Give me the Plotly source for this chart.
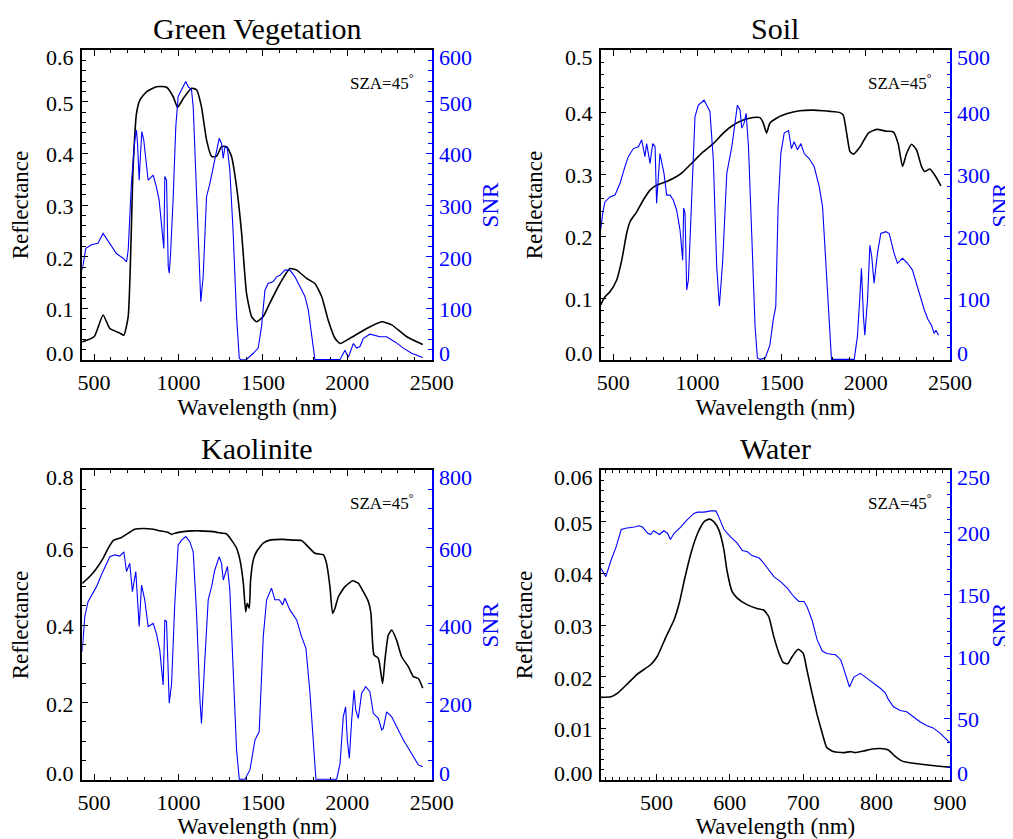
import plotly.graph_objects as go

# ---------------- data ----------------
veg_ref_wl = [429, 500, 553, 593, 652, 676, 702, 731, 751, 771, 810, 869, 929, 968, 994, 1028, 1077, 1107,
              1136, 1166, 1196, 1225, 1255, 1285, 1314, 1344, 1374, 1403, 1433, 1462, 1502, 1541, 1601, 1660,
              1700, 1759, 1808, 1848, 1887, 1927, 1957, 2016, 2115, 2204, 2263, 2352, 2447]
veg_ref = [0.035, 0.045, 0.087, 0.061, 0.052, 0.048, 0.084, 0.374, 0.477, 0.503, 0.519, 0.529, 0.528, 0.510,
           0.489, 0.506, 0.526, 0.523, 0.490, 0.426, 0.394, 0.394, 0.413, 0.413, 0.394, 0.335, 0.245, 0.129,
           0.084, 0.074, 0.084, 0.110, 0.148, 0.177, 0.174, 0.158, 0.148, 0.123, 0.077, 0.042, 0.032, 0.042,
           0.061, 0.074, 0.068, 0.045, 0.030]
veg_snr_wl = [429, 451, 484, 523, 553, 593, 632, 672, 692, 702, 721, 741, 751, 757, 767, 775, 783, 794, 820,
              850, 869, 885, 899, 913, 919, 929, 939, 945, 953, 968, 984, 998, 1018, 1043, 1057, 1077, 1087,
              1103, 1121, 1132, 1146, 1166, 1186, 1205, 1225, 1241, 1255, 1265, 1275, 1289, 1304, 1324, 1344,
              1360, 1374, 1403, 1443, 1472, 1492, 1512, 1531, 1561, 1581, 1601, 1630, 1660, 1690, 1719, 1749,
              1769, 1789, 1808, 1957, 1986, 2006, 2036, 2055, 2075, 2095, 2134, 2194, 2233, 2283, 2332, 2381,
              2421, 2447]
veg_snr = [174, 216, 223, 226, 245, 226, 206, 197, 190, 213, 342, 426, 445, 419, 348, 400, 442, 426, 348,
           358, 335, 310, 258, 216, 355, 348, 181, 168, 206, 310, 452, 510, 523, 539, 529, 523, 490, 342,
           181, 113, 161, 316, 342, 374, 406, 429, 419, 390, 413, 410, 368, 245, 84, 3, 0, 1, 13, 23, 65,
           135, 148, 152, 161, 164, 174, 174, 161, 142, 123, 97, 45, 1, 1, 19, 5, 32, 23, 26, 42, 50, 45,
           45, 35, 23, 13, 8, 5]

soil_ref_wl = [425, 450, 480, 520, 550, 579, 599, 639, 678, 718, 757, 817, 876, 916, 975, 1035, 1094, 1153,
               1213, 1272, 1331, 1371, 1391, 1410, 1420, 1430, 1469, 1529, 1608, 1688, 1747, 1787, 1846, 1866,
               1886, 1906, 1926, 1966, 2015, 2064, 2123, 2163, 2192, 2218, 2242, 2272, 2301, 2331, 2350, 2380,
               2410, 2446]
soil_ref = [0.089, 0.102, 0.110, 0.129, 0.161, 0.204, 0.223, 0.239, 0.258, 0.274, 0.282, 0.288, 0.296, 0.304,
            0.320, 0.336, 0.349, 0.366, 0.379, 0.387, 0.391, 0.391, 0.382, 0.366, 0.374, 0.382, 0.390, 0.397,
            0.402, 0.403, 0.402, 0.401, 0.399, 0.395, 0.366, 0.336, 0.332, 0.344, 0.366, 0.372, 0.369, 0.368,
            0.349, 0.312, 0.333, 0.348, 0.339, 0.312, 0.304, 0.308, 0.298, 0.281]
soil_snr_wl = [425, 437, 450, 480, 510, 540, 569, 589, 619, 649, 668, 688, 698, 718, 734, 748, 757, 767, 777,
               801, 817, 837, 856, 876, 896, 912, 918, 926, 936, 946, 965, 985, 1005, 1039, 1055, 1074, 1094,
               1114, 1130, 1150, 1174, 1204, 1237, 1253, 1263, 1277, 1289, 1303, 1322, 1342, 1356, 1372, 1402,
               1430, 1450, 1465, 1479, 1495, 1515, 1541, 1558, 1574, 1594, 1614, 1634, 1663, 1693, 1723, 1743,
               1762, 1782, 1796, 1931, 1950, 1966, 1974, 1986, 1994, 2010, 2024, 2035, 2049, 2069, 2089, 2119,
               2139, 2168, 2188, 2218, 2248, 2277, 2307, 2327, 2347, 2370, 2390, 2406, 2416, 2432]
soil_snr = [210, 237, 255, 263, 266, 285, 312, 328, 341, 344, 355, 328, 349, 317, 349, 344, 253, 301, 333,
            301, 266, 266, 258, 242, 210, 161, 245, 237, 113, 129, 258, 392, 411, 419, 411, 401, 323, 151,
            87, 161, 301, 344, 411, 403, 374, 382, 398, 344, 204, 54, 3, 1, 3, 24, 65, 86, 247, 333, 366,
            370, 341, 352, 339, 349, 333, 325, 312, 280, 247, 161, 70, 1, 1, 38, 108, 148, 70, 40, 97, 185,
            167, 124, 172, 204, 207, 204, 172, 156, 164, 156, 145, 118, 102, 81, 65, 56, 43, 48, 40]

kao_ref_wl = [429, 474, 514, 553, 583, 613, 662, 702, 741, 791, 850, 889, 939, 959, 978, 1028, 1087, 1127,
              1205, 1255, 1285, 1314, 1344, 1364, 1384, 1398, 1407, 1419, 1427, 1443, 1462, 1502, 1541, 1621,
              1680, 1729, 1759, 1808, 1858, 1877, 1897, 1913, 1927, 1947, 1986, 2032, 2065, 2095, 2125, 2140,
              2158, 2184, 2209, 2223, 2243, 2263, 2292, 2322, 2362, 2391, 2421, 2447]
kao_ref = [0.507, 0.525, 0.546, 0.572, 0.598, 0.618, 0.626, 0.637, 0.647, 0.649, 0.647, 0.643, 0.639, 0.634,
           0.637, 0.641, 0.643, 0.643, 0.641, 0.637, 0.635, 0.619, 0.598, 0.568, 0.508, 0.434, 0.456, 0.443,
           0.516, 0.568, 0.589, 0.611, 0.619, 0.621, 0.619, 0.618, 0.606, 0.585, 0.581, 0.559, 0.499, 0.430,
           0.443, 0.473, 0.499, 0.514, 0.508, 0.486, 0.460, 0.430, 0.323, 0.314, 0.249, 0.310, 0.374, 0.387,
           0.361, 0.318, 0.292, 0.267, 0.262, 0.237]
kao_snr_wl = [429, 445, 464, 494, 514, 543, 573, 593, 623, 652, 676, 692, 711, 727, 747, 767, 781, 800, 820,
              850, 869, 889, 909, 919, 929, 945, 959, 978, 998, 1018, 1043, 1067, 1087, 1107, 1127, 1136, 1156,
              1176, 1196, 1215, 1241, 1255, 1265, 1290, 1304, 1324, 1344, 1360, 1394, 1423, 1453, 1478, 1502,
              1522, 1551, 1571, 1597, 1617, 1630, 1660, 1700, 1729, 1755, 1779, 1798, 1814, 1937, 1957, 1976,
              1990, 2000, 2012, 2026, 2040, 2050, 2065, 2085, 2109, 2134, 2154, 2184, 2204, 2213, 2233, 2263,
              2302, 2332, 2362, 2391, 2421, 2447]
kao_snr = [331, 422, 460, 482, 499, 529, 559, 576, 581, 578, 589, 538, 559, 486, 538, 396, 503, 465, 396,
           404, 378, 335, 245, 413, 409, 198, 249, 456, 606, 619, 628, 615, 589, 430, 206, 146, 310, 465,
           499, 542, 576, 559, 516, 551, 490, 292, 77, 2, 2, 26, 103, 125, 370, 465, 495, 465, 465, 452,
           469, 439, 413, 370, 340, 224, 103, 2, 2, 43, 163, 189, 103, 56, 155, 232, 181, 159, 224, 241,
           228, 172, 159, 129, 133, 176, 163, 129, 103, 82, 60, 39, 34]

wat_ref_wl = [424, 438, 447, 461, 474, 492, 501, 513, 524, 531, 538, 547, 556, 565, 572, 578, 585, 592, 596,
              603, 610, 624, 637, 646, 653, 660, 667, 673, 679, 685, 693, 700, 705, 712, 719, 726, 732, 741,
              755, 764, 771, 782, 794, 805, 816, 825, 834, 843, 864, 882, 889, 900]
wat_ref = [0.0160, 0.0161, 0.0168, 0.0187, 0.0205, 0.0223, 0.0239, 0.0277, 0.0310, 0.0342, 0.0387, 0.0439,
           0.0477, 0.0500, 0.0505, 0.0500, 0.0484, 0.0445, 0.0406, 0.0365, 0.0352, 0.0339, 0.0332, 0.0329,
           0.0316, 0.0277, 0.0245, 0.0227, 0.0225, 0.0239, 0.0253, 0.0245, 0.0213, 0.0168, 0.0126, 0.0090,
           0.0063, 0.0055, 0.0053, 0.0055, 0.0053, 0.0056, 0.0060, 0.0061, 0.0058, 0.0046, 0.0037, 0.0034,
           0.0030, 0.0027, 0.0026, 0.0025]
wat_snr_wl = [424, 431, 438, 445, 452, 458, 470, 476, 481, 488, 492, 496, 504, 510, 515, 519, 524, 533, 542,
              551, 556, 565, 574, 581, 585, 592, 601, 610, 617, 624, 630, 640, 646, 653, 660, 669, 678, 687,
              694, 701, 705, 712, 719, 726, 732, 744, 751, 755, 760, 763, 769, 778, 787, 796, 805, 812, 816,
              823, 832, 841, 850, 859, 868, 877, 886, 893, 900]
wat_snr = [171, 164, 177, 188, 202, 203, 204, 205, 204, 199, 198, 201, 198, 201, 199, 194, 199, 204, 210,
           215, 216, 216, 217, 217, 212, 202, 196, 191, 185, 184, 181, 179, 175, 169, 164, 160, 155, 148,
           144, 144, 140, 129, 113, 104, 102, 101, 97, 90, 81, 75, 83, 86, 82, 78, 74, 70, 65, 59, 56, 55,
           51, 47, 44, 42, 38, 34, 30]

titles = ["Green Vegetation", "Soil", "Kaolinite", "Water"]
x_ranges = [[430, 2500], [425, 2500], [430, 2500], [424, 900]]
ref_ranges = [[0, 0.6], [0, 0.5], [0, 0.8], [0, 0.06]]
snr_ranges = [[0, 600], [0, 500], [0, 800], [0, 250]]
ref_ticks = [[0.0, 0.1, 0.2, 0.3, 0.4, 0.5, 0.6],
             [0.0, 0.1, 0.2, 0.3, 0.4, 0.5],
             [0.0, 0.2, 0.4, 0.6, 0.8],
             [0.00, 0.01, 0.02, 0.03, 0.04, 0.05, 0.06]]
ref_minor = [0.02, 0.02, 0.05, 0.002]
snr_ticks = [[0, 100, 200, 300, 400, 500, 600],
             [0, 100, 200, 300, 400, 500],
             [0, 200, 400, 600, 800],
             [0, 50, 100, 150, 200, 250]]
snr_minor = [20, 20, 50, 10]
x_dticks = [500, 500, 500, 100]
x_minor = [100, 100, 100, 10]
ref_fmt = ["{:.1f}", "{:.1f}", "{:.1f}", "{:.2f}"]
ref_title_standoff = [50, 50, 50, 60]

panels = [
    (veg_ref_wl, veg_ref, veg_snr_wl, veg_snr),
    (soil_ref_wl, soil_ref, soil_snr_wl, soil_snr),
    (kao_ref_wl, kao_ref, kao_snr_wl, kao_snr),
    (wat_ref_wl, wat_ref, wat_snr_wl, wat_snr),
]

# ---------------- layout geometry ----------------
# the page body adds an 8px offset, so the figure is laid out 8px up/left
OFF = 8
W, H = 1013 - OFF, 839 - OFF
x_doms = [[(82.3 - OFF) / W, (431.7 - OFF) / W], [(600.7 - OFF) / W, (950.0 - OFF) / W]]
y_doms = [[1 - (360 - OFF) / H, 1 - (50 - OFF) / H], [1 - (780 - OFF) / H, 1 - (470 - OFF) / H]]

FONT = "Liberation Serif"
BLUE = "#0000ff"
tick_font = dict(family=FONT, size=22, color="black")
title_font = dict(family=FONT, size=23, color="black")

fig = go.Figure()
layout = dict(
    width=W, height=H, autosize=False,
    margin=dict(l=0, r=0, t=0, b=0, pad=0),
    paper_bgcolor="white", plot_bgcolor="white",
    showlegend=False,
    font=dict(family=FONT, color="black"),
    annotations=[],
)


def label_shift(k, n):
    # tick labels at the ends of the axis are pulled inward, like the reference
    if k == 0:
        return 7
    if k == n - 1:
        return -7
    return -1.5


for i, (rw, rv, sw, sv) in enumerate(panels):
    col, row = i % 2, i // 2
    xa = "x" if i == 0 else f"x{i + 1}"
    ya = "y" if i == 0 else f"y{2 * i + 1}"
    ya2 = f"y{2 * i + 2}"
    xkey = "xaxis" if i == 0 else f"xaxis{i + 1}"
    ykey = "yaxis" if i == 0 else f"yaxis{2 * i + 1}"
    y2key = f"yaxis{2 * i + 2}"

    fig.add_trace(go.Scatter(x=rw, y=rv, mode="lines", xaxis=xa, yaxis=ya,
                             line=dict(color="black", width=1.6, shape="spline", smoothing=0.5)))
    fig.add_trace(go.Scatter(x=sw, y=sv, mode="lines", xaxis=xa, yaxis=ya2,
                             line=dict(color=BLUE, width=1.1)))

    layout[xkey] = dict(
        domain=x_doms[col], anchor=ya, range=x_ranges[i], automargin=False,
        showgrid=False, zeroline=False, showline=True, linecolor="black", linewidth=1.5,
        mirror="ticks", ticks="inside", ticklen=6, tickwidth=1.2, tickcolor="black",
        dtick=x_dticks[i], tick0=0, tickfont=tick_font, ticklabelstandoff=2,
        minor=dict(dtick=x_minor[i], tick0=0, ticks="inside", ticklen=3.5, tickcolor="black",
                   tickwidth=1, showgrid=False),
        title=dict(text="Wavelength (nm)", font=title_font, standoff=4),
    )
    layout[ykey] = dict(
        domain=y_doms[row], anchor=xa, range=ref_ranges[i], automargin=False,
        showgrid=False, zeroline=False, showline=True, linecolor="black", linewidth=1.5,
        ticks="inside", ticklen=6, tickwidth=1.2, tickcolor="black",
        tickvals=ref_ticks[i], showticklabels=False,
        minor=dict(dtick=ref_minor[i], tick0=0, ticks="inside", ticklen=3.5, tickcolor="black",
                   tickwidth=1, showgrid=False),
        title=dict(text="Reflectance", font=title_font, standoff=ref_title_standoff[i]),
    )
    layout[y2key] = dict(
        overlaying=ya, side="right", anchor=xa, range=snr_ranges[i], automargin=False,
        showgrid=False, zeroline=False, showline=True, linecolor=BLUE, linewidth=1.5,
        ticks="inside", ticklen=6, tickwidth=1.2, tickcolor=BLUE,
        tickvals=snr_ticks[i], showticklabels=False,
        minor=dict(dtick=snr_minor[i], tick0=0, ticks="inside", ticklen=3.5, tickcolor=BLUE,
                   tickwidth=1, showgrid=False),
        title=dict(text="SNR", font=dict(family=FONT, size=23, color=BLUE), standoff=49),
    )

    # y tick labels (left: reflectance, right: SNR)
    n = len(ref_ticks[i])
    for k, v in enumerate(ref_ticks[i]):
        layout["annotations"].append(dict(
            text=ref_fmt[i].format(v), xref=f"{xa} domain", yref=ya, x=0, y=v,
            xshift=-6, yshift=label_shift(k, n), xanchor="right", yanchor="middle",
            showarrow=False, font=tick_font,
        ))
    n = len(snr_ticks[i])
    for k, v in enumerate(snr_ticks[i]):
        layout["annotations"].append(dict(
            text=str(v), xref=f"{xa} domain", yref=ya2, x=1, y=v,
            xshift=5, yshift=label_shift(k, n), xanchor="left", yanchor="middle",
            showarrow=False, font=dict(family=FONT, size=22, color=BLUE),
        ))

    # panel title
    layout["annotations"].append(dict(
        text=titles[i], xref="paper", yref="paper",
        x=sum(x_doms[col]) / 2, y=1 - (28 + 420 * row - OFF) / H,
        xanchor="center", yanchor="middle", showarrow=False,
        font=dict(family=FONT, size=30, color="black"),
    ))
    # SZA label
    layout["annotations"].append(dict(
        text="SZA=45<sup>°</sup>", xref=f"{xa} domain", yref=f"{ya} domain",
        x=1, y=1, xshift=-16, yshift=-32, xanchor="right", yanchor="middle",
        showarrow=False, font=dict(family=FONT, size=17, color="black"),
    ))

fig.update_layout(**layout)
fig.write_html("out.html")
